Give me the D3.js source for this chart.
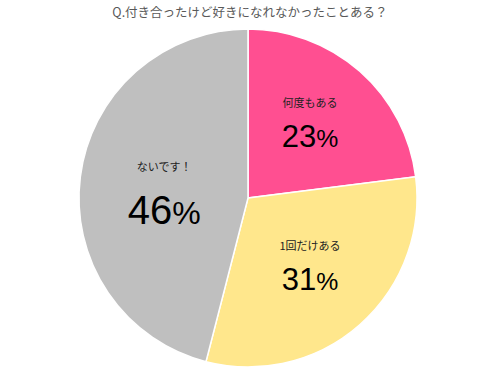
<!DOCTYPE html>
<html><head><meta charset="utf-8">
<script src="https://cdn.jsdelivr.net/npm/d3@7"></script>
<style>body{margin:0;background:#fff}svg{display:block}</style>
</head><body>
<svg id="c" width="500" height="379"></svg>
<script>
const title = "Q.付き合ったけど好きになれなかったことある？";
const categories = ["何度もある", "1回だけある", "ないです！"];
const values = [23, 31, 46];
const colors = ["#FF4F91", "#FFE78C", "#BFBFBF"];

const W = 500, H = 379, cx = 248, cy = 198, R = 169;
const svg = d3.select("#c");
svg.append("text").attr("x", 250).attr("y", 17).attr("text-anchor", "middle")
  .attr("font-family", "'Noto Sans CJK JP', sans-serif").attr("font-size", 12.5)
  .attr("fill", "#595959").text(title);

const pie = d3.pie().sort(null).value(d => d)(values);
const arc = d3.arc().innerRadius(0).outerRadius(R);
const g = svg.append("g").attr("transform", `translate(${cx},${cy})`);
g.selectAll("path").data(pie).join("path").attr("d", arc)
  .attr("fill", (d, i) => colors[i]).attr("stroke", "#fff").attr("stroke-width", 1.5);

// label layout: radius fraction and fine offset per slice
const labelR = [0.6, 0.6, 0.5];
const labelOff = [[-5, -2], [-5, -11], [0, 2]];
const bigSize = [31, 31, 40];
pie.forEach((d, i) => {
  const a = (d.startAngle + d.endAngle) / 2;
  const x = Math.sin(a) * R * labelR[i] + labelOff[i][0];
  const y = -Math.cos(a) * R * labelR[i] + labelOff[i][1];
  const t = g.append("g").attr("transform", `translate(${x},${y})`);
  t.append("text").attr("text-anchor", "middle").attr("y", i === 2 ? -18 : -13)
    .attr("font-family", "'Noto Sans CJK JP', sans-serif").attr("font-size", 11)
    .attr("fill", "#222").text(categories[i]);
  const big = t.append("text").attr("text-anchor", "middle").attr("y", i === 2 ? 35 : 27)
    .attr("font-family", "'Liberation Sans', Arial, sans-serif").attr("fill", "#000");
  big.append("tspan").attr("font-size", bigSize[i]).text(values[i]);
  big.append("tspan").attr("font-size", bigSize[i] * 0.8).text("%");
});
</script>
</body></html>
